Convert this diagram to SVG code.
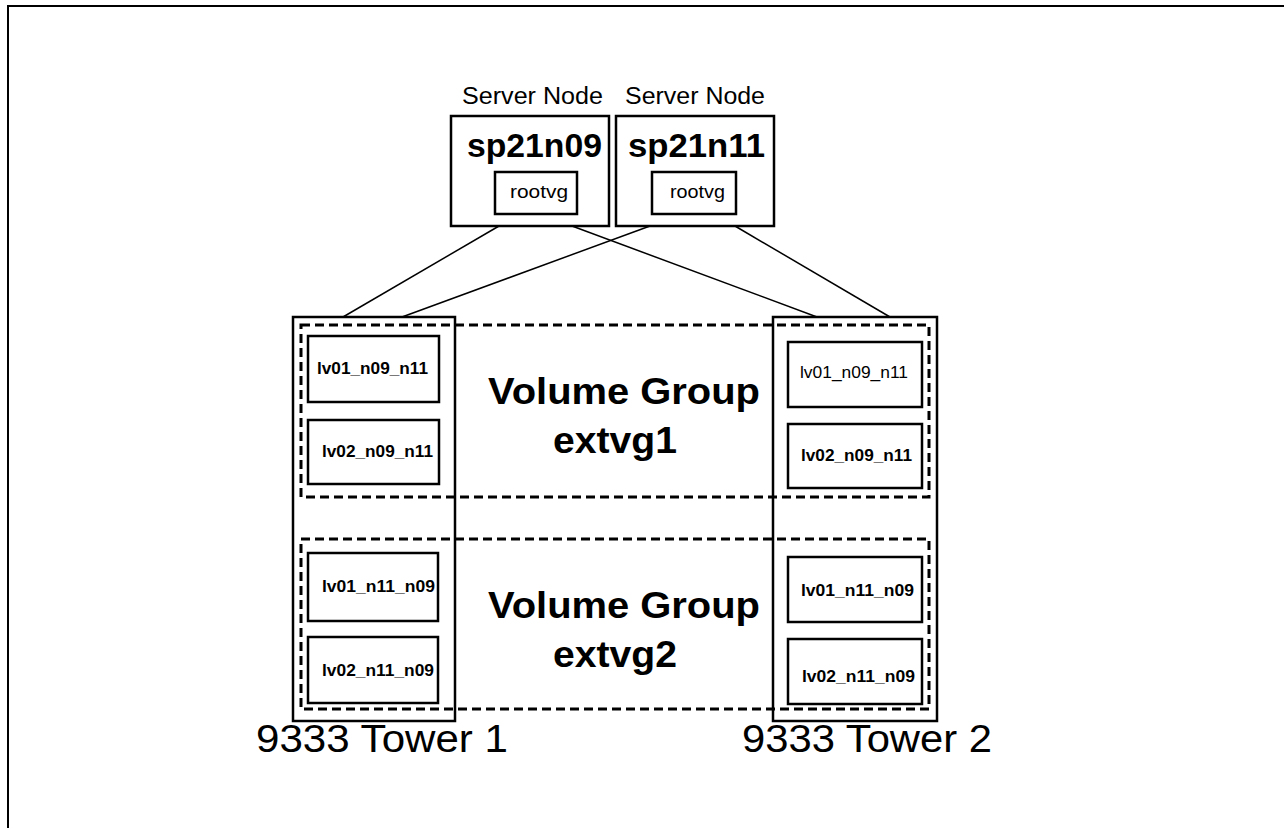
<svg xmlns="http://www.w3.org/2000/svg" width="1284" height="828" viewBox="0 0 1284 828">
<style>
text{font-family:"Liberation Sans",Arial,sans-serif;fill:#000}
.box{fill:none;stroke:#000;stroke-width:2.5}
.dash{fill:none;stroke:#000;stroke-width:3;stroke-dasharray:9 5}
.conn{fill:none;stroke:#000;stroke-width:1.5}
.lbl{font-size:23px}
.host{font-size:33px;font-weight:bold}
.rvg{font-size:19px}
.lv{font-size:17px;font-weight:bold}
.lvn{font-size:17px}
.vg{font-size:37px;font-weight:bold}
.tw{font-size:39px}
</style>
<rect width="1284" height="828" fill="#fff"/>
<path d="M8,828 V6 H1284" fill="none" stroke="#000" stroke-width="2"/>

<g id="connectors">
<line class="conn" x1="499" y1="226" x2="343" y2="317"/>
<line class="conn" x1="650" y1="226" x2="402" y2="317"/>
<line class="conn" x1="572" y1="226" x2="817" y2="317"/>
<line class="conn" x1="735" y1="226" x2="890" y2="317"/>
</g>

<g id="node-sp21n09">
<text class="lbl" x="462" y="104" textLength="141" lengthAdjust="spacingAndGlyphs">Server Node</text>
<rect class="box" x="451" y="116" width="158" height="110"/>
<text class="host" x="467" y="157" textLength="135" lengthAdjust="spacingAndGlyphs">sp21n09</text>
<rect class="box" x="495" y="172" width="82" height="42"/>
<text class="rvg" x="510" y="198" textLength="58" lengthAdjust="spacingAndGlyphs">rootvg</text>
</g>

<g id="node-sp21n11">
<text class="lbl" x="625" y="104" textLength="140" lengthAdjust="spacingAndGlyphs">Server Node</text>
<rect class="box" x="616" y="116" width="158" height="110"/>
<text class="host" x="628" y="157" textLength="137" lengthAdjust="spacingAndGlyphs">sp21n11</text>
<rect class="box" x="652" y="172" width="84" height="42"/>
<text class="rvg" x="670" y="198" textLength="55" lengthAdjust="spacingAndGlyphs">rootvg</text>
</g>

<g id="tower1">
<rect class="box" x="293" y="317" width="162" height="404"/>
<text class="tw" x="256" y="752" textLength="252" lengthAdjust="spacingAndGlyphs">9333 Tower 1</text>
</g>

<g id="tower2">
<rect class="box" x="773" y="317" width="164" height="404"/>
<text class="tw" x="742" y="752" textLength="250" lengthAdjust="spacingAndGlyphs">9333 Tower 2</text>
</g>

<g id="extvg1">
<rect class="dash" x="301" y="325" width="628" height="172"/>
<text class="vg" x="488" y="404" textLength="272" lengthAdjust="spacingAndGlyphs">Volume Group</text>
<text class="vg" x="553" y="453" textLength="124" lengthAdjust="spacingAndGlyphs">extvg1</text>
</g>

<g id="extvg2">
<rect class="dash" x="301" y="539" width="628" height="170"/>
<text class="vg" x="488" y="618" textLength="272" lengthAdjust="spacingAndGlyphs">Volume Group</text>
<text class="vg" x="553" y="667" textLength="124" lengthAdjust="spacingAndGlyphs">extvg2</text>
</g>

<g id="lv-t1-lv01_n09_n11">
<rect class="box" x="308" y="336" width="131" height="66"/>
<text class="lv" x="317" y="374" textLength="111" lengthAdjust="spacingAndGlyphs">lv01_n09_n11</text>
</g>
<g id="lv-t1-lv02_n09_n11">
<rect class="box" x="308" y="420" width="131" height="64"/>
<text class="lv" x="322" y="457" textLength="111" lengthAdjust="spacingAndGlyphs">lv02_n09_n11</text>
</g>
<g id="lv-t2-lv01_n09_n11">
<rect class="box" x="788" y="342" width="134" height="65"/>
<text class="lvn" x="800" y="378" textLength="108" lengthAdjust="spacingAndGlyphs">lv01_n09_n11</text>
</g>
<g id="lv-t2-lv02_n09_n11">
<rect class="box" x="788" y="424" width="134" height="64"/>
<text class="lv" x="801" y="461" textLength="111" lengthAdjust="spacingAndGlyphs">lv02_n09_n11</text>
</g>
<g id="lv-t1-lv01_n11_n09">
<rect class="box" x="308" y="553" width="130" height="68"/>
<text class="lv" x="322" y="592" textLength="113" lengthAdjust="spacingAndGlyphs">lv01_n11_n09</text>
</g>
<g id="lv-t1-lv02_n11_n09">
<rect class="box" x="308" y="637" width="130" height="66"/>
<text class="lv" x="322" y="676" textLength="112" lengthAdjust="spacingAndGlyphs">lv02_n11_n09</text>
</g>
<g id="lv-t2-lv01_n11_n09">
<rect class="box" x="788" y="557" width="134" height="65"/>
<text class="lv" x="801" y="596" textLength="113" lengthAdjust="spacingAndGlyphs">lv01_n11_n09</text>
</g>
<g id="lv-t2-lv02_n11_n09">
<rect class="box" x="788" y="639" width="134" height="65"/>
<text class="lv" x="802" y="682" textLength="113" lengthAdjust="spacingAndGlyphs">lv02_n11_n09</text>
</g>
</svg>
